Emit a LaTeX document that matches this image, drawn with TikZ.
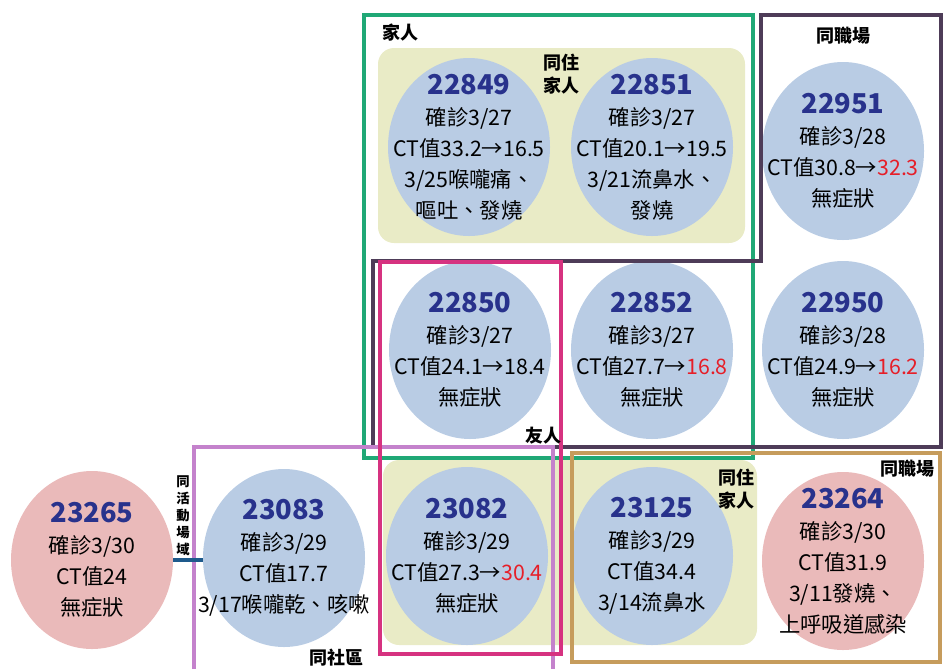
\documentclass[tikz,border=0pt]{standalone}
\usepackage{fontspec}
\setmainfont{Noto Sans CJK TC}
\usetikzlibrary{shapes.geometric}

\definecolor{casefill}{RGB}{185,204,228}
\definecolor{casepink}{RGB}{234,186,186}
\definecolor{homebg}{RGB}{233,235,198}
\definecolor{numblue}{RGB}{40,50,140}
\definecolor{ctred}{RGB}{230,30,40}
\definecolor{famgreen}{RGB}{32,168,118}
\definecolor{workpurple}{RGB}{78,60,88}
\definecolor{friendpink}{RGB}{214,50,128}
\definecolor{areaviolet}{RGB}{196,130,204}
\definecolor{worktan}{RGB}{198,156,92}
\definecolor{linkblue}{RGB}{30,90,140}

\newcommand{\casenum}[1]{{\fontsize{20.5}{26}\selectfont\bfseries\color{numblue}#1}}
\newcommand{\ctup}[1]{\textcolor{ctred}{#1}}

\tikzset{
	case/.style={ellipse, fill=casefill, minimum width=121.5pt, minimum height=133.5pt, inner sep=0pt},
	casered/.style={case, fill=casepink},
	casetext/.style={align=center, inner sep=0pt, font=\fontsize{16}{23.25}\selectfont},
	homebox/.style={fill=homebg, rounded corners=12pt},
	groupline/.style={line width=2.3pt},
	tag/.style={font=\fontsize{13.5}{17}\selectfont\bfseries, align=center, inner sep=0pt},
	link/.style={line width=2.4pt, draw=linkblue},
}

\begin{document}
\begin{tikzpicture}[x=0.75pt,y=-0.75pt]
	\useasboundingbox (0,0) rectangle (944,668);
	% same-household backgrounds
	\fill[homebox] (378,48) rectangle (745,243);
	\fill[homebox] (383,460) rectangle (757,645);
	% cases
	\node[case, label={[casetext]center:{\casenum{22849}\\確診3/27\\CT值33.2→16.5\\3/25喉嚨痛、\\嘔吐、發燒}}] (t22849) at (469,147) {};
	\node[case, label={[casetext]center:{\casenum{22851}\\確診3/27\\CT值20.1→19.5\\3/21流鼻水、\\發燒}}] (t22851) at (652,147) {};
	\node[case, label={[casetext]center:{\casenum{22951}\\確診3/28\\CT值30.8→\ctup{32.3}\\無症狀}}] (t22951) at (843,151) {};
	\node[case, label={[casetext]center:{\casenum{22850}\\確診3/27\\CT值24.1→18.4\\無症狀}}] (t22850) at (470,350) {};
	\node[case, label={[casetext]center:{\casenum{22852}\\確診3/27\\CT值27.7→\ctup{16.8}\\無症狀}}] (t22852) at (652,350) {};
	\node[case, label={[casetext]center:{\casenum{22950}\\確診3/28\\CT值24.9→\ctup{16.2}\\無症狀}}] (t22950) at (843,350) {};
	\node[casered, label={[casetext]center:{\casenum{23265}\\確診3/30\\CT值24\\無症狀}}] (t23265) at (92,560) {};
	\node[case, label={[casetext]center:{\casenum{23083}\\確診3/29\\CT值17.7\\3/17喉嚨乾、咳嗽}}] (t23083) at (284,558) {};
	\node[case, label={[casetext]center:{\casenum{23082}\\確診3/29\\CT值27.3→\ctup{30.4}\\無症狀}}] (t23082) at (467,556) {};
	\node[case, label={[casetext]center:{\casenum{23125}\\確診3/29\\CT值34.4\\3/14流鼻水}}] (t23125) at (652,556) {};
	\node[casered, label={[casetext]center:{\casenum{23264}\\確診3/30\\CT值31.9\\3/11發燒、\\上呼吸道感染}}] (t23264) at (843,561) {};
	% contact groups
	\draw[groupline, famgreen] (364,15) rectangle (753,458);
	\draw[groupline, workpurple] (761,15) -- (941,15) -- (941,447) -- (373,447) -- (373,261) -- (761,261) -- cycle;
	\draw[groupline, areaviolet] (194,672) -- (194,447) -- (553,447) -- (553,672);
	\draw[groupline, friendpink] (380,262) rectangle (561,654);
	\draw[groupline, worktan] (572,453) rectangle (940,662);
	% link between the two event-site cases
	\draw[link] (t23265.east) -- (t23265.east -| t23083.west);
	% group labels
	\node[tag] (famtag) at (400,33) {家人};
	\node[tag] (hometop) at (561,74) {同住\\家人};
	\node[tag] (worktop) at (843,36) {同職場};
	\node[tag] (friendtag) at (543,436) {友人};
	\node[tag] (workbot) at (907,469) {同職場};
	\node[tag] (homebot) at (736,489) {同住\\家人};
	\node[tag] (areatag) at (336,658) {同社區};
	\node[tag, font=\fontsize{10}{12.75}\selectfont\bfseries] (sitetag) at (183,516) {同\\活\\動\\場\\域};
\end{tikzpicture}
\end{document}
